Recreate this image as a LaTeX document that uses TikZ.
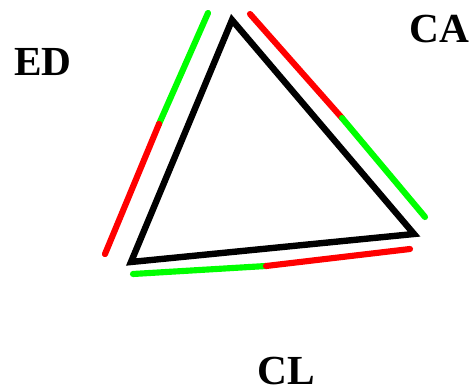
\documentclass[tikz,border=0pt]{standalone}
\usepackage{fontspec}
\setmainfont{Liberation Serif}
\definecolor{pgreen}{RGB}{0,255,0}
\definecolor{pred}{RGB}{255,0,0}
\begin{document}
\begin{tikzpicture}[x=0.75pt,y=-0.75pt,
  tri/.style={line width=4.8pt,black,line join=miter},
  seg/.style={line width=4.6pt,line cap=round},
  lab/.style={font=\fontsize{31}{31}\selectfont\bfseries,anchor=base,inner sep=0pt}]
\useasboundingbox[fill=white] (0,0) rectangle (473,391);
\coordinate (t) at (232,20);
\coordinate (l) at (131,262);
\coordinate (r) at (414,234);
\draw[tri] (t) -- (l) -- (r) -- cycle;
% left side
\coordinate (l1) at (208,13);
\coordinate (l2) at (159,124);
\coordinate (l3) at (105,254);
\draw[seg,pgreen] (l1) -- (l2);
\draw[seg,pred] (l2) -- (l3);
% right side
\coordinate (r1) at (250,14);
\coordinate (r2) at (342,118);
\coordinate (r3) at (425,217);
\draw[seg,pred] (r1) -- (r2);
\draw[seg,pgreen] (r2) -- (r3);
% bottom side
\coordinate (b1) at (133,274);
\coordinate (b2) at (266,266);
\coordinate (b3) at (410,249);
\draw[seg,pgreen] (b1) -- (b2);
\draw[seg,pred] (b2) -- (b3);
\node[lab] (ed) at (43,76) {ED};
\node[lab] (ca) at (439,43) {CA};
\node[lab] (cl) at (286,384) {CL};
\end{tikzpicture}
\end{document}
